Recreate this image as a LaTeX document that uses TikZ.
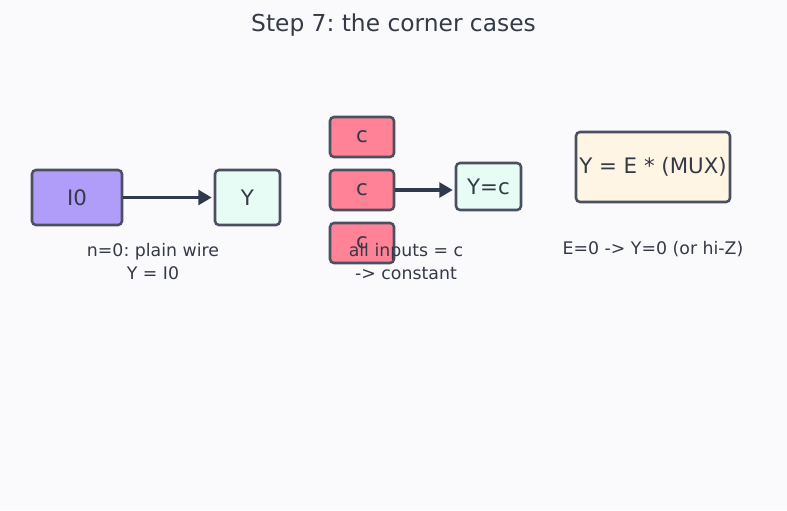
\documentclass[tikz,border=0pt]{standalone}
\usepackage{fontspec}
\setmainfont{DejaVu Sans}
\usetikzlibrary{arrows.meta}
\definecolor{bg}{HTML}{FAFAFD}
\definecolor{txt}{HTML}{343A46}
\definecolor{edge}{HTML}{4A5060}
\definecolor{arr}{HTML}{2F3A4E}
\definecolor{purp}{HTML}{B09CF9}
\definecolor{mint}{HTML}{E6FCF5}
\definecolor{pink}{HTML}{FF8296}
\definecolor{cream}{HTML}{FFF5E4}
\tikzset{
  box/.style={draw=edge, line width=1.9pt, rounded corners=3pt, text=txt, inner sep=0pt, font=\fontsize{16}{19}\selectfont},
  lbl/.style={text=txt, font=\fontsize{13}{16}\selectfont, align=center, inner sep=0pt},
  wire/.style={draw=arr, line width=2.8pt, -{Triangle[length=10pt,width=11pt]}, shorten >=1.5pt}
}
\begin{document}
\frenchspacing
\begin{tikzpicture}[x=0.75pt,y=-0.75pt]
\fill[bg] (0,0) rectangle (787,510);
\useasboundingbox (0,0) rectangle (787,510);
\node[text=txt, font=\fontsize{17.5}{21}\selectfont] (title) at (393.5,25) {Step 7: the corner cases};
% case 1
\node[box, fill=purp, minimum width=67.5pt, minimum height=41.25pt] (i0) at (77,197.5) {I0};
\node[box, fill=mint, minimum width=48.75pt, minimum height=41.25pt] (y1) at (247.5,197.5) {Y};
\draw[wire] (i0.east) -- (y1.west);
\node[lbl] (l1) at (153,261.5) {n=0: plain wire\\[1.5pt]Y = I0};
% case 2
\node[box, fill=pink, minimum width=48pt, minimum height=30pt] (c1) at (362,137) {c};
\node[box, fill=pink, minimum width=48pt, minimum height=30pt] (c2) at (362,190) {c};
\node[box, fill=pink, minimum width=48pt, minimum height=30pt] (c3) at (362,243) {c};
\node[box, fill=mint, minimum width=48.75pt, minimum height=35.25pt] (yc) at (488.5,186.5) {Y=c};
\draw[wire] (c2.east) -- (c2.east -| yc.west);
\node[lbl] (l2) at (406,261.5) {all inputs = c\\[1.5pt]-> constant};
% case 3
\node[box, fill=cream, minimum width=115.5pt, minimum height=52.5pt] (mux) at (653,167) {Y = E * (MUX)};
\node[lbl] (l3) at (653,249) {E=0 -> Y=0 (or hi-Z)};
\end{tikzpicture}
\end{document}
